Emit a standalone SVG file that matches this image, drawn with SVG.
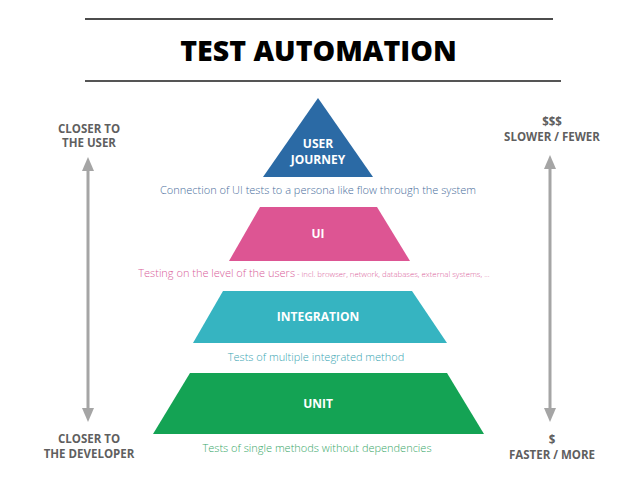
<svg xmlns="http://www.w3.org/2000/svg" width="638" height="479" viewBox="0 0 638 479">
<style>
text{font-family:"Open Sans","Liberation Sans",sans-serif}
.title{font-size:28.5px;font-weight:800;fill:#000}
.lbl{font-size:12px;font-weight:700;fill:#fff}
.side{font-size:11.5px;font-weight:700;fill:#5f5f5f}
.desc{font-size:11px;font-weight:300}
.arr{stroke:#a5a5a5;stroke-width:3;fill:none}
</style>
<defs>
<marker id="ah" viewBox="0 0 14 12" refX="0" refY="6" markerWidth="14" markerHeight="12" markerUnits="userSpaceOnUse" orient="auto-start-reverse">
<path d="M0,0 L14,6 L0,12 Z" fill="#a5a5a5"/>
</marker>
</defs>
<rect width="638" height="479" fill="#fff"/>
<line x1="85" y1="19" x2="553" y2="19" stroke="#111" stroke-width="1.5"/>
<line x1="85" y1="81" x2="561" y2="81" stroke="#555" stroke-width="2"/>
<text class="title" x="318.5" y="61" text-anchor="middle">TEST AUTOMATION</text>

<g id="user-journey">
<polygon points="318,98 373,177 263,177" fill="#2b6aa5"/>
<text class="lbl" x="318" y="148" text-anchor="middle">USER</text>
<text class="lbl" x="318" y="164" text-anchor="middle">JOURNEY</text>
<text class="desc" x="318" y="194" text-anchor="middle" fill="#4a6e9c">Connection of UI tests to a persona like flow through the system</text>
</g>
<g id="ui">
<polygon points="260,207 377,207 410,261 229,261" fill="#dd5593"/>
<text class="lbl" x="318" y="238" text-anchor="middle">UI</text>
<text class="desc" x="314" y="277" text-anchor="middle" fill="#d9609a" font-size="11.5px">Testing on the level of the users<tspan font-size="7.8px"> - incl. browser, network, databases, external systems, ...</tspan></text>
</g>
<g id="integration">
<polygon points="223,291 412,291 447,343 193,343" fill="#36b4c1"/>
<text class="lbl" x="318" y="321" text-anchor="middle" font-size="13px">INTEGRATION</text>
<text class="desc" x="316" y="361" text-anchor="middle" fill="#3aa6b3">Tests of multiple integrated method</text>
</g>
<g id="unit">
<polygon points="190,373 447,373 484,434 153,434" fill="#14a354"/>
<text class="lbl" x="318" y="408" text-anchor="middle" font-size="13px">UNIT</text>
<text class="desc" x="317" y="452" text-anchor="middle" fill="#3aa86a">Tests of single methods without dependencies</text>
</g>
<g id="left-scale">
<text class="side" x="89" y="133" text-anchor="middle">CLOSER TO</text>
<text class="side" x="89" y="147" text-anchor="middle">THE USER</text>
<text class="side" x="89" y="443" text-anchor="middle">CLOSER TO</text>
<text class="side" x="89" y="458" text-anchor="middle">THE DEVELOPER</text>
</g>
<g id="right-scale">
<text class="side" x="552" y="126" text-anchor="middle">$$$</text>
<text class="side" x="552" y="141" text-anchor="middle">SLOWER / FEWER</text>
<text class="side" x="552" y="444" text-anchor="middle">$</text>
<text class="side" x="552" y="459" text-anchor="middle">FASTER / MORE</text>
</g>
<g id="connectors">
<line class="arr" x1="88" y1="171" x2="88" y2="408" marker-start="url(#ah)" marker-end="url(#ah)"/>
<line class="arr" x1="550" y1="169" x2="550" y2="408" marker-start="url(#ah)" marker-end="url(#ah)"/>
</g>
</svg>
